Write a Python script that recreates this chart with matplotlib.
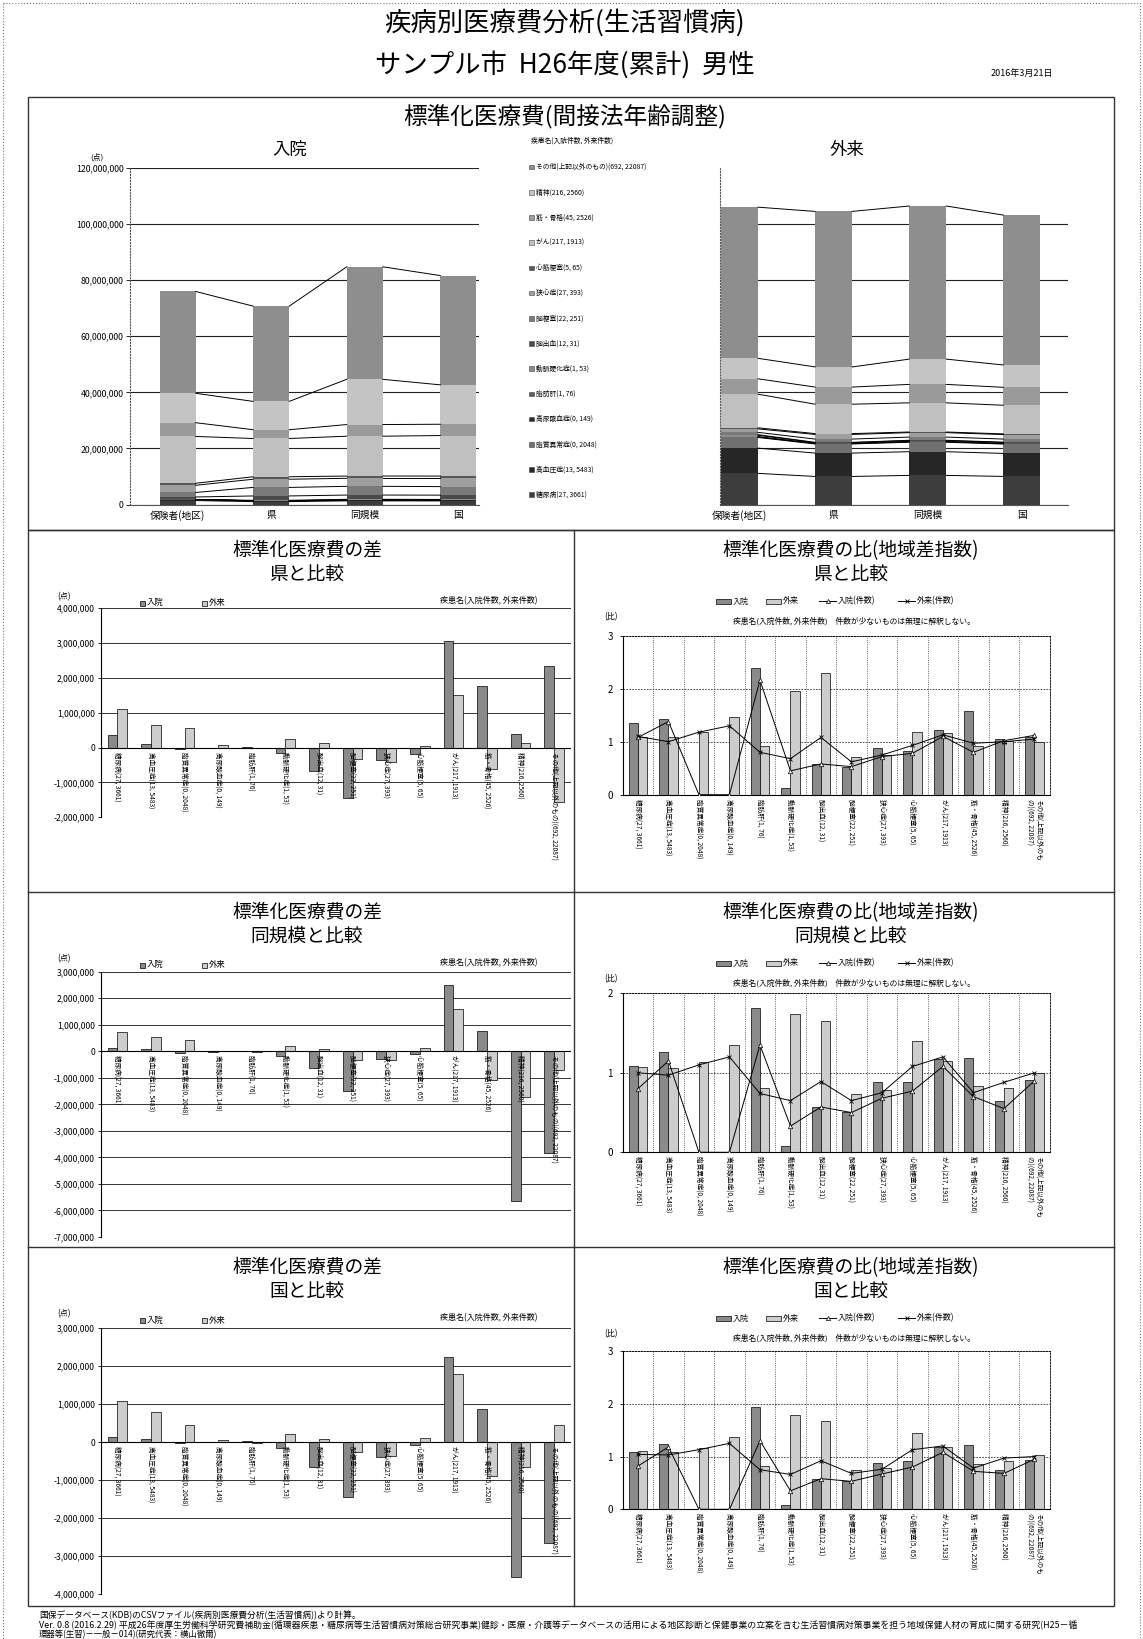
"""疾病別医療費分析(生活習慣病) summary sheet: standardized costs, differences and ratios."""

import matplotlib
matplotlib.use('Agg')
import matplotlib.pyplot as plt
import numpy as np
from matplotlib.patches import Rectangle
from matplotlib.ticker import FuncFormatter

plt.rcParams['font.family'] = ['Noto Sans CJK JP', 'DejaVu Sans']

W, H = 1143, 1639

diseases = ['糖尿病', '高血圧症', '脂質異常症', '高尿酸血症', '脂肪肝', '動脈硬化症', '脳出血',
            '脳梗塞', '狭心症', '心筋梗塞', 'がん', '筋・骨格', '精神', 'その他(上記以外のもの)']
inpatient_counts = [27, 13, 0, 0, 1, 1, 12, 22, 27, 5, 217, 45, 216, 692]
outpatient_counts = [3661, 5483, 2048, 149, 76, 53, 31, 251, 393, 65, 1913, 2526, 2560, 22087]
regions = ['保険者(地区)', '県', '同規模', '国']

# standardized cost per disease, in millions of points (bottom of the stack first)
inp_hoken = [1.40, 0.36, 0.00, 0.00, 0.03, 0.02, 0.88, 1.60, 2.56, 0.72, 16.70, 4.90, 10.50, 36.30]
inp_ken = [1.03, 0.26, 0.03, 0.01, 0.01, 0.16, 1.55, 3.04, 2.92, 0.89, 13.64, 3.13, 10.10, 33.97]
inp_doukibo = [1.29, 0.28, 0.05, 0.01, 0.02, 0.20, 1.52, 3.11, 2.86, 0.81, 14.21, 4.15, 16.13, 40.12]
inp_kuni = [1.28, 0.29, 0.03, 0.01, 0.01, 0.19, 1.53, 3.04, 2.96, 0.80, 14.45, 4.03, 14.05, 38.97]

out_hoken = [11.10, 9.00, 3.80, 0.20, 0.10, 0.47, 0.23, 0.83, 1.24, 0.36, 12.00, 5.50, 7.30, 53.90]
out_ken = [10.00, 8.34, 3.25, 0.13, 0.11, 0.23, 0.10, 1.17, 1.65, 0.31, 10.48, 6.11, 7.18, 55.46]
out_doukibo = [10.38, 8.45, 3.37, 0.19, 0.12, 0.26, 0.13, 1.14, 1.58, 0.23, 10.40, 6.58, 9.01, 54.60]
out_kuni = [10.02, 8.20, 3.34, 0.15, 0.12, 0.27, 0.14, 1.10, 1.60, 0.25, 10.21, 6.39, 7.97, 53.45]

# differences (millions of points)
diff_ken_in = [0.37, 0.10, -0.03, -0.01, 0.02, -0.14, -0.67, -1.44, -0.36, -0.17, 3.06, 1.77, 0.40, 2.33]
diff_ken_out = [1.10, 0.66, 0.55, 0.07, -0.01, 0.24, 0.13, -0.34, -0.41, 0.05, 1.52, -0.61, 0.12, -1.56]
diff_dou_in = [0.11, 0.08, -0.05, -0.01, 0.01, -0.18, -0.64, -1.51, -0.30, -0.09, 2.49, 0.75, -5.63, -3.82]
diff_dou_out = [0.72, 0.55, 0.43, 0.01, -0.02, 0.21, 0.10, -0.31, -0.34, 0.13, 1.60, -1.08, -1.71, -0.70]
diff_kuni_in = [0.12, 0.07, -0.03, -0.01, 0.02, -0.17, -0.65, -1.44, -0.40, -0.08, 2.25, 0.87, -3.55, -2.67]
diff_kuni_out = [1.08, 0.80, 0.46, 0.05, -0.02, 0.20, 0.09, -0.27, -0.36, 0.11, 1.79, -0.89, -0.67, 0.45]

# ratios (地域差指数) and case-count ratios
ratio_ken_in = [1.35, 1.43, 0, 0, 2.40, 0.12, 0.58, 0.53, 0.88, 0.82, 1.23, 1.57, 1.05, 1.09]
ratio_ken_out = [1.09, 1.08, 1.18, 1.47, 0.92, 1.96, 2.29, 0.71, 0.75, 1.18, 1.16, 0.91, 1.02, 0.99]
count_ken_in = [1.08, 1.38, 0, 0, 2.16, 0.45, 0.58, 0.53, 0.72, 0.78, 1.10, 0.80, 1.02, 1.12]
count_ken_out = [1.10, 1.00, 1.18, 1.30, 0.80, 0.68, 1.08, 0.62, 0.75, 0.93, 1.13, 0.97, 1.00, 1.05]

ratio_dou_in = [1.09, 1.26, 0, 0, 1.82, 0.08, 0.57, 0.51, 0.89, 0.88, 1.17, 1.18, 0.65, 0.91]
ratio_dou_out = [1.07, 1.06, 1.13, 1.35, 0.81, 1.74, 1.65, 0.73, 0.78, 1.40, 1.15, 0.83, 0.81, 1.00]
count_dou_in = [0.80, 1.15, 0, 0, 1.35, 0.33, 0.57, 0.50, 0.68, 0.77, 1.08, 0.70, 0.55, 0.90]
count_dou_out = [1.00, 0.97, 1.10, 1.20, 0.74, 0.65, 0.89, 0.65, 0.75, 1.08, 1.20, 0.75, 0.88, 1.00]

ratio_kuni_in = [1.09, 1.23, 0, 0, 1.94, 0.09, 0.57, 0.53, 0.87, 0.91, 1.19, 1.22, 0.75, 0.94]
ratio_kuni_out = [1.11, 1.09, 1.16, 1.37, 0.83, 1.79, 1.68, 0.75, 0.78, 1.44, 1.18, 0.86, 0.92, 1.02]
count_kuni_in = [0.82, 1.18, 0, 0, 1.30, 0.35, 0.58, 0.53, 0.67, 0.80, 1.08, 0.72, 0.68, 0.95]
count_kuni_out = [1.04, 1.03, 1.13, 1.25, 0.75, 0.66, 0.92, 0.68, 0.76, 1.13, 1.20, 0.78, 0.97, 1.00]

IN_COLOR = '#8a8a8a'
OUT_COLOR = '#cdcdcd'
stack_colors = ['#3d3d3d', '#262626', '#707070', '#2e2e2e', '#5c5c5c', '#8c8c8c', '#4a4a4a',
                '#7a7a7a', '#9e9e9e', '#575757', '#c0c0c0', '#9a9a9a', '#c4c4c4', '#8e8e8e']
LINE = '#333333'
RIGHT = 1114
BOTTOM = 1606

fig = plt.figure(figsize=(W / 100, H / 100), dpi=100)
page = fig.add_axes([0, 0, 1, 1])
page.set_xlim(0, W)
page.set_ylim(H, 0)
page.axis('off')


def axes_at(x0, y0, x1, y1):
    ax = fig.add_axes([x0 / W, 1 - y1 / H, (x1 - x0) / W, (y1 - y0) / H])
    ax.patch.set_alpha(0)
    return ax


def disease_label(i, wrap=False):
    text = f'{diseases[i]}({inpatient_counts[i]}, {outpatient_counts[i]})'
    if wrap and len(diseases[i]) > 10:
        text = text[:10] + '\n' + text[10:]
    return text


def money(v, _):
    return f'{v:,.0f}'


def draw_stack(ax, columns, width, show_ticks):
    data = np.array(columns) * 1e6
    x = np.arange(len(columns))
    base = np.zeros(len(columns))
    for k, color in enumerate(stack_colors):
        ax.bar(x, data[:, k], width, bottom=base, color=color, linewidth=0, zorder=2)
        base = base + data[:, k]
        for i in range(len(x) - 1):
            ax.plot([x[i] + width / 2, x[i + 1] - width / 2], [base[i], base[i + 1]],
                    color='black', lw=0.7, zorder=3)
    for i, name in enumerate(regions):
        ax.annotate(name, (x[i], 0), xytext=(0, -4), textcoords='offset points',
                    ha='center', va='top', fontsize=7, annotation_clip=False)
    ax.set_ylim(0, 120e6)
    ax.set_xticks([])
    ax.grid(axis='y', color='#222222', lw=0.8)
    ax.set_axisbelow(True)
    for s in ['top', 'right']:
        ax.spines[s].set_visible(False)
    ax.spines['left'].set_linestyle(':')
    ax.spines['left'].set_color('#555555')
    ax.spines['bottom'].set_color('#555555')
    if show_ticks:
        ax.set_yticks(np.arange(0, 121, 20) * 1e6)
        ax.yaxis.set_major_formatter(FuncFormatter(money))
        ax.tick_params(axis='y', labelsize=6.3, length=3, width=0.6, pad=2)
    else:
        ax.set_yticks(np.arange(0, 101, 20) * 1e6)
        ax.tick_params(axis='y', length=0, labelleft=False)


def draw_diff(ax, d_in, d_out, lo, hi):
    x = np.arange(len(diseases))
    ax.bar(x - 0.145, np.array(d_in) * 1e6, 0.29, color=IN_COLOR, edgecolor='black', lw=0.5, zorder=2)
    ax.bar(x + 0.145, np.array(d_out) * 1e6, 0.29, color=OUT_COLOR, edgecolor='black', lw=0.5, zorder=2)
    ax.set_xlim(-0.5, 13.5)
    ax.set_ylim(lo * 1e6, hi * 1e6)
    ax.set_yticks(np.arange(lo, hi + 1) * 1e6)
    ax.yaxis.set_major_formatter(FuncFormatter(money))
    ax.tick_params(axis='y', labelsize=6.2, length=2.5, width=0.6, pad=1.5)
    ax.set_xticks([])
    ax.grid(axis='y', color='#333333', lw=0.7)
    ax.set_axisbelow(True)
    for s in ['top', 'right', 'bottom']:
        ax.spines[s].set_visible(False)
    ax.spines['left'].set_linewidth(0.8)
    ax.axhline(0, color='black', lw=0.8, zorder=3)
    for i in x:
        ax.annotate(disease_label(i), (i, 0), xytext=(0, -3), textcoords='offset points',
                    rotation=-90, ha='center', va='top', fontsize=4.8,
                    annotation_clip=False, zorder=4)


def draw_ratio(ax, r_in, r_out, c_in, c_out, top):
    x = np.arange(len(diseases))
    ax.bar(x - 0.15, r_in, 0.3, color=IN_COLOR, edgecolor='black', lw=0.5, zorder=2)
    ax.bar(x + 0.15, r_out, 0.3, color=OUT_COLOR, edgecolor='black', lw=0.5, zorder=2)
    ax.plot(x, c_in, color='black', lw=0.7, marker='^', ms=3.2, mfc='white', mec='black',
            mew=0.5, zorder=4)
    ax.plot(x, c_out, color='black', lw=0.7, marker='x', ms=3.2, mew=0.6, zorder=4)
    ax.set_xlim(-0.5, 13.5)
    ax.set_ylim(0, top)
    ax.set_yticks(range(top + 1))
    ax.tick_params(axis='y', labelsize=7, length=2, width=0.6, pad=5)
    ax.set_xticks(np.arange(0.5, 13.5, 1))
    ax.tick_params(axis='x', length=0, labelbottom=False)
    ax.grid(axis='y', color='#333333', lw=0.6, ls=(0, (2, 1.5)))
    ax.grid(axis='x', color='#333333', lw=0.6, ls=':')
    ax.set_axisbelow(True)
    for s in ['top', 'right']:
        ax.spines[s].set_linestyle((0, (2, 1.5)))
        ax.spines[s].set_linewidth(0.6)
    for i in x:
        ax.annotate(disease_label(i, wrap=True), (i, 0), xytext=(0, -3), textcoords='offset points',
                    rotation=-90, ha='center', va='top', fontsize=4.8, multialignment='left',
                    annotation_clip=False)


def diff_decor(top, sub):
    page.text(307, top + 21, '標準化医療費の差', ha='center', va='center', fontsize=13.5)
    page.text(307, top + 44, sub, ha='center', va='center', fontsize=13.5)
    page.text(64, top + 67, '(点)', ha='center', va='center', fontsize=5.8)
    y = top + 73
    page.add_patch(Rectangle((140, y - 2.5), 5, 5, facecolor=IN_COLOR, edgecolor='black', lw=0.5))
    page.text(147, y, '入院', va='center', fontsize=6)
    page.add_patch(Rectangle((202, y - 2.5), 5, 5, facecolor=OUT_COLOR, edgecolor='black', lw=0.5))
    page.text(209, y, '外来', va='center', fontsize=6)
    page.text(489, y - 2, '疾患名(入院件数, 外来件数)', ha='center', va='center', fontsize=5.8)


def ratio_decor(top, sub):
    page.text(851, top + 21, '標準化医療費の比(地域差指数)', ha='center', va='center', fontsize=13.5)
    page.text(851, top + 44, sub, ha='center', va='center', fontsize=13.5)
    y = top + 71
    page.add_patch(Rectangle((716, y - 2.5), 15, 5, facecolor=IN_COLOR, edgecolor='black', lw=0.5))
    page.text(733, y, '入院', va='center', fontsize=5.8)
    page.add_patch(Rectangle((766, y - 2.5), 15, 5, facecolor=OUT_COLOR, edgecolor='black', lw=0.5))
    page.text(783, y, '外来', va='center', fontsize=5.8)
    page.plot([819, 836], [y, y], color='black', lw=0.7)
    page.plot([827.5], [y], marker='^', ms=3, mfc='white', mec='black', mew=0.5)
    page.text(838, y, '入院(件数)', va='center', fontsize=5.8)
    page.plot([898, 915], [y, y], color='black', lw=0.7)
    page.plot([906.5], [y], marker='x', ms=3, mec='black', mew=0.6)
    page.text(917, y, '外来(件数)', va='center', fontsize=5.8)
    page.text(611, top + 87, '(比)', ha='center', va='center', fontsize=5.8)
    page.text(854, top + 91, '疾患名(入院件数, 外来件数)　件数が少ないものは無理に解釈しない。',
              ha='center', va='center', fontsize=5.6)


# page frame and headings
page.plot([3, 1140, 1140], [3, 3, 1639], color='#777777', lw=0.8, ls=':')
page.plot([3, 3], [3, 1639], color='#777777', lw=0.8, ls=':')
page.text(565, 23, '疾病別医療費分析(生活習慣病)', ha='center', va='center', fontsize=19)
page.text(565, 65, 'サンプル市  H26年度(累計)  男性', ha='center', va='center', fontsize=19)
page.text(1022, 73, '2016年3月21日', ha='center', va='center', fontsize=6.5)

# panel boxes
page.add_patch(Rectangle((28, 97), RIGHT - 28, 530 - 97, fill=False, edgecolor=LINE, lw=1.0))
page.add_patch(Rectangle((28, 530), RIGHT - 28, BOTTOM - 530, fill=False, edgecolor=LINE, lw=1.0))
for yy in [892, 1247]:
    page.plot([28, RIGHT], [yy, yy], color=LINE, lw=1.0)
page.plot([574, 574], [530, BOTTOM], color=LINE, lw=1.0)

# top panel: stacked standardized costs
page.text(565, 117, '標準化医療費(間接法年齢調整)', ha='center', va='center', fontsize=17)
page.text(290, 150, '入院', ha='center', va='center', fontsize=12.5)
page.text(847, 150, '外来', ha='center', va='center', fontsize=12.5)
page.text(97, 157, '(点)', ha='center', va='center', fontsize=5.6)

ax_in = axes_at(130.4, 168, 479, 504.5)
ax_in.set_xlim(-0.504, 3.22)
draw_stack(ax_in, [inp_hoken, inp_ken, inp_doukibo, inp_kuni], 0.386, True)

ax_out = axes_at(720, 168, 1068, 504.5)
ax_out.set_xlim(-0.207, 3.49)
draw_stack(ax_out, [out_hoken, out_ken, out_doukibo, out_kuni], 0.394, False)

page.text(531, 141, '疾患名(入院件数, 外来件数)', va='center', fontsize=4.9)
for k in range(len(diseases)):
    idx = len(diseases) - 1 - k
    y = 167 + k * 25.2
    page.add_patch(Rectangle((529, y - 2.3), 4.6, 4.6, facecolor=stack_colors[idx],
                             edgecolor='#444444', lw=0.4))
    page.text(536, y, disease_label(idx), va='center', fontsize=4.9)

# difference panels
diff_rows = [
    (530, '県と比較', diff_ken_in, diff_ken_out, -2, 4, 608.3, 817.3),
    (892, '同規模と比較', diff_dou_in, diff_dou_out, -7, 3, 971.7, 1237),
    (1247, '国と比較', diff_kuni_in, diff_kuni_out, -4, 3, 1328.3, 1593.6),
]
for top, sub, d_in, d_out, lo, hi, y0, y1 in diff_rows:
    diff_decor(top, sub)
    draw_diff(axes_at(100.6, y0, 571, y1), d_in, d_out, lo, hi)

# ratio panels
ratio_rows = [
    (530, '県と比較', ratio_ken_in, ratio_ken_out, count_ken_in, count_ken_out, 3, 635.7, 794.7),
    (892, '同規模と比較', ratio_dou_in, ratio_dou_out, count_dou_in, count_dou_out, 2, 993.3, 1152.3),
    (1247, '国と比較', ratio_kuni_in, ratio_kuni_out, count_kuni_in, count_kuni_out, 3, 1351, 1509.3),
]
for top, sub, r_in, r_out, c_in, c_out, ymax, y0, y1 in ratio_rows:
    ratio_decor(top, sub)
    draw_ratio(axes_at(622.7, y0, 1049.7, y1), r_in, r_out, c_in, c_out, ymax)

# source notes
page.text(39, 1615, '国保データベース(KDB)のCSVファイル(疾病別医療費分析(生活習慣病))より計算。',
          va='center', fontsize=6.3)
page.text(39, 1625.5, 'Ver. 0.8 (2016.2.29) 平成26年度厚生労働科学研究費補助金(循環器疾患・糖尿病等生活習慣病対策総合研究事業)'
          '健診・医療・介護等データベースの活用による地区診断と保健事業の立案を含む生活習慣病対策事業を担う'
          '地域保健人材の育成に関する研究(H25－循', va='center', fontsize=6.4, style='italic')
page.text(39, 1634.5, '環器等(生習)－一般－014)(研究代表：横山徹爾)', va='center', fontsize=6.0, style='italic')

fig.savefig('out.png', dpi=100)
